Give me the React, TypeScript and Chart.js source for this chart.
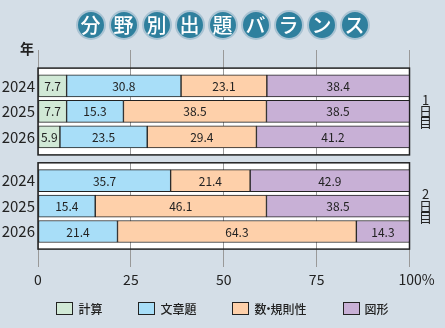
import React, { useEffect, useRef } from "react";
import { Chart, registerables } from "chart.js";
Chart.register(...registerables);

const title = "分野別出題バランス";
const categories = ["計算", "文章題", "数・規則性", "図形"];
const years = ["2024", "2025", "2026"];
const dayLabels = ["1", "2"];
const day1Calc = [7.7, 7.7, 5.9];
const day1Word = [30.8, 15.3, 23.5];
const day1Number = [23.1, 38.5, 29.4];
const day1Figure = [38.4, 38.5, 41.2];
const day2Calc = [0, 0, 0];
const day2Word = [35.7, 15.4, 21.4];
const day2Number = [21.4, 46.1, 64.3];
const day2Figure = [42.9, 38.5, 14.3];
const xTicks = [0, 25, 50, 75, 100];
const colors = ["#d1e9d6", "#a8def8", "#fed0aa", "#c8b0d6"];

const BG = "#d4dee7";
const FONT = "'Noto Sans CJK JP', 'Noto Sans', sans-serif";
const DAY2_OFFSET = 3.72;
const Y_MIN = -0.7;
const Y_MAX = DAY2_OFFSET + 2 + 0.69;
const PANELS: [number, number][] = [
  [Y_MIN, 2 + 0.71],
  [DAY2_OFFSET - 0.7, Y_MAX],
];

const day1 = [day1Calc, day1Word, day1Number, day1Figure];
const day2 = [day2Calc, day2Word, day2Number, day2Figure];
const pos1 = years.map((_, i) => i);
const pos2 = years.map((_, i) => i + DAY2_OFFSET);
const allPos = [...pos1, ...pos2];
const allYearLabels = [...years, ...years];

const panelPlugin = {
  id: "panels",
  beforeDraw(chart: any) {
    const { ctx, chartArea: a, scales } = chart;
    const y = scales.y;
    ctx.save();
    ctx.fillStyle = "#ffffff";
    PANELS.forEach(([t, b]) => {
      const top = y.getPixelForValue(t);
      const bot = y.getPixelForValue(b);
      ctx.fillRect(a.left, top, a.right - a.left, bot - top);
    });
    ctx.restore();
  },
  beforeDatasetsDraw(chart: any) {
    const { ctx, chartArea: a, scales } = chart;
    const y = scales.y;
    ctx.save();
    const g1 = y.getPixelForValue(PANELS[0][1]);
    const g2 = y.getPixelForValue(PANELS[1][0]);
    ctx.fillStyle = BG;
    ctx.fillRect(a.left - 2, g1, a.right - a.left + 4, g2 - g1);
    ctx.strokeStyle = "#222";
    ctx.lineWidth = 1.5;
    PANELS.forEach(([t, b]) => {
      const top = y.getPixelForValue(t);
      const bot = y.getPixelForValue(b);
      ctx.strokeRect(a.left, top, a.right - a.left, bot - top);
    });
    ctx.restore();
  },
  afterDatasetsDraw(chart: any) {
    const { ctx, chartArea: a, scales } = chart;
    const y = scales.y;
    ctx.save();
    ctx.fillStyle = "#222";
    ctx.textAlign = "center";
    ctx.textBaseline = "middle";
    ctx.font = `12px ${FONT}`;
    chart.data.datasets.forEach((ds: any, di: number) => {
      const meta = chart.getDatasetMeta(di);
      meta.data.forEach((el: any, i: number) => {
        const raw = ds.data[i].x;
        if (!raw) return;
        const p = el.getProps(["x", "base", "y"], true);
        ctx.fillText(raw.toFixed(1), (p.x + p.base) / 2, p.y + 0.5);
      });
    });
    ctx.font = `bold 14px ${FONT}`;
    ctx.fillText("年", 27, a.top - 1);
    PANELS.forEach(([t, b], k) => {
      const cy = (y.getPixelForValue(t) + y.getPixelForValue(b)) / 2;
      const cx = a.right + 16;
      ctx.font = `13px ${FONT}`;
      ctx.fillText(dayLabels[k], cx, cy - 11.5);
      ctx.fillText("日", cx, cy);
      ctx.fillText("目", cx, cy + 11);
    });
    ctx.restore();
  },
};

function renderLegendText(c: string) {
  const parts = c.split("・");
  if (parts.length === 1) return c;
  return (
    <>
      {parts[0]}
      <span style={{ margin: "0 -4px" }}>・</span>
      {parts[1]}
    </>
  );
}

export default function App() {
  const ref = useRef<HTMLCanvasElement>(null);
  useEffect(() => {
    document.body.style.margin = "0";
    const datasets = categories.map((name, k) => ({
      label: name,
      data: [
        ...day1[k].map((v, i) => ({ x: v || null, y: pos1[i] })),
        ...day2[k].map((v, i) => ({ x: v || null, y: pos2[i] })),
      ],
      backgroundColor: colors[k],
      borderColor: "#222",
      borderWidth: 1,
      borderSkipped: false,
      barThickness: 22,
    }));
    const chart = new Chart(ref.current as HTMLCanvasElement, {
      type: "bar",
      data: { datasets } as any,
      plugins: [panelPlugin],
      options: {
        indexAxis: "y",
        animation: false,
        responsive: false,
        layout: { padding: { top: 50, right: 35.5, bottom: 36, left: 0 } },
        plugins: { legend: { display: false }, tooltip: { enabled: false } },
        scales: {
          x: {
            type: "linear",
            stacked: true,
            min: 0,
            max: 100,
            afterBuildTicks: (ax: any) => {
              ax.ticks = xTicks.map((v) => ({ value: v }));
            },
            ticks: {
              callback: (v: any) => (v === 100 ? "\u2002\u2002100%" : String(v)),
              color: "#222",
              font: { family: FONT, size: 14 },
              padding: 4,
              maxRotation: 0,
              autoSkip: false,
            },
            grid: { color: "#999", lineWidth: 1, drawTicks: false },
            border: { display: false },
          },
          y: {
            type: "linear",
            stacked: true,
            reverse: true,
            min: Y_MIN,
            max: Y_MAX,
            afterBuildTicks: (ax: any) => {
              ax.ticks = allPos.map((v) => ({ value: v }));
            },
            afterFit: (ax: any) => {
              ax.width = 38;
            },
            ticks: {
              callback: (_v: any, i: number) => allYearLabels[i],
              color: "#222",
              font: { family: FONT, size: 15 },
              padding: 3,
              autoSkip: false,
            },
            grid: { display: false, drawTicks: false },
            border: { display: false },
          },
        },
      } as any,
    });
    return () => chart.destroy();
  }, []);

  return (
    <div
      style={{
        position: "relative",
        width: 445,
        height: 328,
        background: BG,
        overflow: "hidden",
        fontFamily: FONT,
      }}
    >
      <canvas ref={ref} width={445} height={328} style={{ position: "absolute", left: 0, top: 0 }} />
      <div
        style={{
          position: "absolute",
          top: 10,
          left: 0,
          width: 445,
          display: "flex",
          justifyContent: "center",
          gap: 3,
        }}
      >
        {title.split("").map((c, i) => (
          <span
            key={i}
            style={{
              width: 26,
              height: 26,
              borderRadius: "50%",
              background: "#2f809e",
              border: "2px solid #a9c3d3",
              color: "#fff",
              fontSize: 20,
              fontWeight: 500,
              display: "flex",
              alignItems: "center",
              justifyContent: "center",
              lineHeight: 1,
            }}
          >
            {c}
          </span>
        ))}
      </div>
      <div
        style={{
          position: "absolute",
          top: 301,
          left: 0,
          width: 445,
          display: "flex",
          justifyContent: "center",
          gap: 36,
          fontSize: 12,
          fontWeight: 500,
          color: "#222",
        }}
      >
        {categories.map((c, k) => (
          <div key={k} style={{ display: "flex", alignItems: "center", gap: 5 }}>
            <span
              style={{
                width: 15,
                height: 11,
                background: colors[k],
                border: "1px solid #222",
                display: "inline-block",
              }}
            />
            <span style={{ lineHeight: "15px" }}>{renderLegendText(c)}</span>
          </div>
        ))}
      </div>
    </div>
  );
}
